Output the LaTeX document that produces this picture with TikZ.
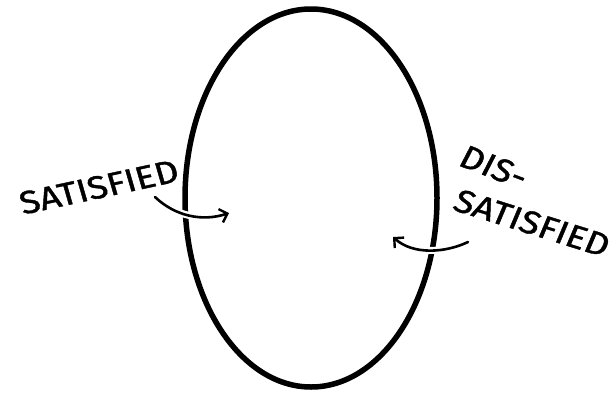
\documentclass[tikz,border=0pt]{standalone}
\usepackage{fontspec}
\newfontfamily\hand[FakeBold=1.2]{Fira Sans}
\usetikzlibrary{arrows.meta}
\tikzset{
  loop/.style={line width=5.5pt, line join=round},
  turn/.style={line width=2.6pt, line cap=round, -{Straight Barb[length=7pt,width=14pt,line width=2.4pt]}},
  lbl/.style={font=\hand\fontsize{32}{34}\selectfont, inner sep=0pt, text=black, xscale=1.16}
}
\begin{document}
\begin{tikzpicture}[x=1pt,y=-1pt]
\useasboundingbox (0,0) rectangle (615,394);
\fill[white] (0,0) rectangle (615,394);
% the loop
\draw[loop] (311,198) ellipse [x radius=126, y radius=189];
% labels
\node[lbl, rotate=14] (sat) at (99,187) {SATISFIED};
\node[lbl, rotate=-24] (dis) at (494,167) {DIS-};
\node[lbl, rotate=-20] (dissat) at (532,223) {SATISFIED};
% arrow anchors
\coordinate (a1) at (155,197);
\coordinate (a2) at (229,213);
\coordinate (b1) at (468,242);
\coordinate (b2) at (393,237);
\draw[turn, preaction={draw=white, line width=7pt, -}] (a1) .. controls (175,216) and (202,222) .. (a2);
\draw[turn, preaction={draw=white, line width=7pt, -}] (b1) .. controls (445,253) and (413,255) .. (b2);
\end{tikzpicture}
\end{document}
